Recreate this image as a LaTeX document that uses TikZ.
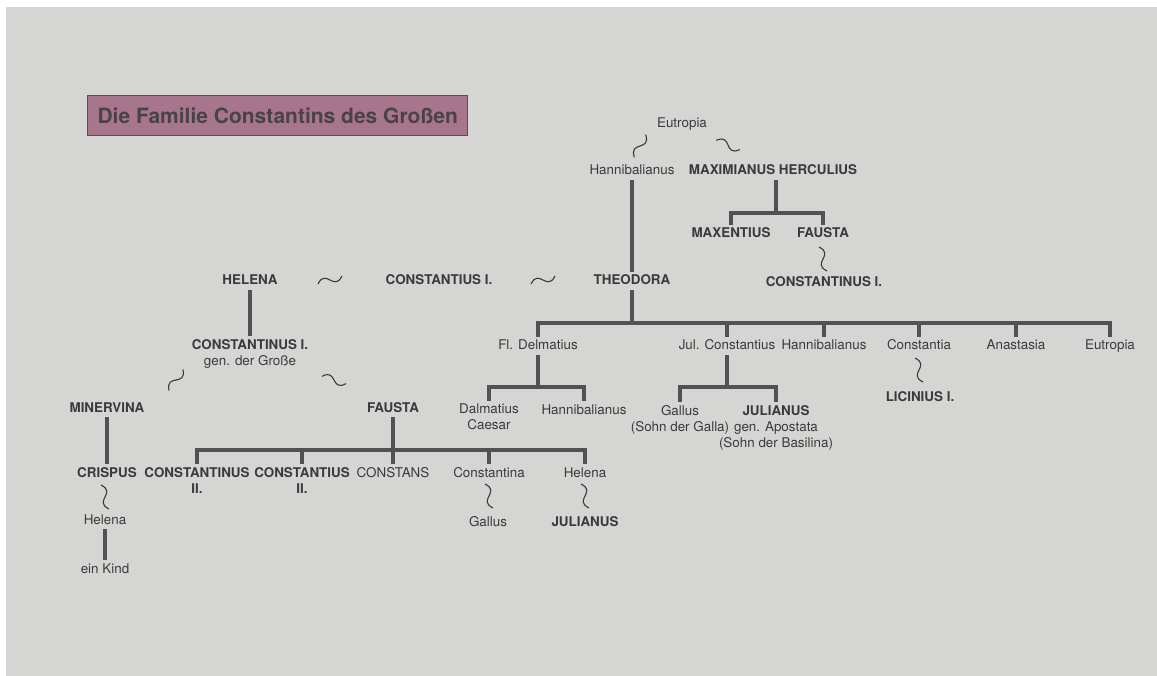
\documentclass[tikz,border=0pt]{standalone}
\usepackage{fontspec}
\setmainfont{TeX Gyre Heros}
\usetikzlibrary{positioning}

\definecolor{paper}{RGB}{213,213,211}
\definecolor{ink}{RGB}{58,58,58}
\definecolor{stem}{RGB}{82,82,82}
\definecolor{mauve}{RGB}{168,118,140}

\tikzset{
  lines/.style={text=ink, font=\fontsize{13.4}{16}\selectfont, align=center, anchor=north, inner sep=3pt},
  lines royal/.style={lines, font=\fontsize{13.4}{16}\selectfont\bfseries},
  person/.style={lines, anchor=base, text height=10pt, text depth=2pt},
  royal/.style={person, font=\fontsize{13.4}{16}\selectfont\bfseries},
  famline/.style={draw=stem, line width=3.6pt},
  wedline/.style={draw=ink, line width=1.1pt},
  pics/wed/.style={code={\draw[wedline] (-12,4) .. controls (-4,-12) and (4,12) .. (12,-4);}}
}

\begin{document}
\begin{tikzpicture}[x=1pt, y=-1pt]
    % Page
    \useasboundingbox (0,0) rectangle (1157,676);
    \fill[white] (0,0) rectangle (1157,676);
    \fill[paper] (6,7) rectangle (1157,676);

    % Title
    \node[anchor=north west, fill=mauve, draw=stem, line width=1pt, minimum height=40pt, inner xsep=10pt, text=ink!85!mauve, font=\fontsize{21}{24}\selectfont\bfseries] (title) at (87,95) {Die Familie Constantins des Großen};

    % Top generation
    \node[person] (eutropia1) at (682,128) {Eutropia};
    \node[person] (hannib1) at (632,175) {Hannibalianus};
    \node[royal] (maximian) at (773,175) {MAXIMIANUS HERCULIUS};
    \node[royal] (maxentius) at (731,238) {MAXENTIUS};
    \node[royal] (fausta2) at (823,238) {FAUSTA};
    \node[royal] (constI2) at (824,287) {CONSTANTINUS I.};

    % Constantius and his wives
    \node[royal] (helena1) at (250,285) {HELENA};
    \node[royal] (constantius) at (439,285) {CONSTANTIUS I.};
    \node[royal] (theodora) at (632,285) {THEODORA};

    % Children of Helena
    \node[lines royal] (constI) at (250,336) {CONSTANTINUS I.\\\mdseries gen. der Große};
    \node[royal] (minervina) at (107,412) {MINERVINA};
    \node[royal] (fausta1) at (393,412) {FAUSTA};
    \node[royal] (crispus) at (107,477) {CRISPUS};
    \node[lines royal] (constII) at (197,464) {CONSTANTINUS\\II.};
    \node[lines royal] (constiusII) at (302,464) {CONSTANTIUS\\II.};
    \node[person] (constans) at (393,477) {CONSTANS};
    \node[person] (constantina) at (489,477) {Constantina};
    \node[person] (helena3) at (585,477) {Helena};
    \node[person] (helena2) at (105,524) {Helena};
    \node[person] (kind) at (105,573) {ein Kind};
    \node[person] (gallus2) at (488,526) {Gallus};
    \node[royal] (julianus2) at (585,526) {JULIANUS};

    % Children of Theodora
    \node[person] (fldelm) at (538,350) {Fl. Delmatius};
    \node[person] (julconst) at (727,350) {Jul. Constantius};
    \node[person] (hannib2) at (824,350) {Hannibalianus};
    \node[person] (constantia) at (919,350) {Constantia};
    \node[person] (anastasia) at (1016,350) {Anastasia};
    \node[person] (eutropia2) at (1110,350) {Eutropia};
    \node[lines] (dalmatius) at (489,401) {Dalmatius\\Caesar};
    \node[person] (hannib3) at (584,414) {Hannibalianus};
    \node[lines] (gallus1) at (680,402) {Gallus\\(Sohn der Galla)};
    \node[lines royal] (julianus1) at (776,402) {JULIANUS\\\mdseries gen. Apostata\\\mdseries (Sohn der Basilina)};
    \node[royal] (licinius) at (920,402) {LICINIUS I.};

    % Marriages
    \pic[rotate=45] at (640,146) {wed};
    \pic[rotate=-40] at (728,145) {wed};
    \pic[rotate=90] at (823,259) {wed};
    \pic at (330,280) {wed};
    \pic at (543,280) {wed};
    \pic[rotate=38] at (176,380) {wed};
    \pic[rotate=-35] at (334,380) {wed};
    \pic[rotate=90] at (105,497) {wed};
    \pic[rotate=90] at (489,496) {wed};
    \pic[rotate=90] at (585,496) {wed};
    \pic[rotate=90] at (919,370) {wed};

    % Descent lines
    \coordinate (mbar) at (776,213);
    \coordinate (tbar) at (632,323);
    \coordinate (fbar) at (393,450);
    \coordinate (dbar) at (538,387);
    \coordinate (jbar) at (727,387);
    \draw[famline] (hannib1.south) -- (theodora.north);
    \draw[famline] (maximian.south -| mbar) -- (mbar);
    \foreach \c in {maxentius, fausta2} \draw[famline] (mbar) -| (\c.north);
    \draw[famline] (theodora.south) -- (tbar);
    \foreach \c in {fldelm, julconst, hannib2, constantia, anastasia, eutropia2} \draw[famline] (tbar) -| (\c.north);
    \draw[famline] (helena1.south) -- (constI.north);
    \draw[famline] (minervina.south) -- (crispus.north);
    \draw[famline] (fausta1.south) -- (constans.north);
    \foreach \c in {constII, constiusII, constantina, helena3} \draw[famline] (fbar) -| (\c.north);
    \draw[famline] (helena2.south) -- (kind.north);
    \draw[famline] (fldelm.south) -- (dbar);
    \foreach \c in {dalmatius, hannib3} \draw[famline] (dbar) -| (\c.north);
    \draw[famline] (julconst.south) -- (jbar);
    \foreach \c in {gallus1, julianus1} \draw[famline] (jbar) -| (\c.north);
\end{tikzpicture}
\end{document}
